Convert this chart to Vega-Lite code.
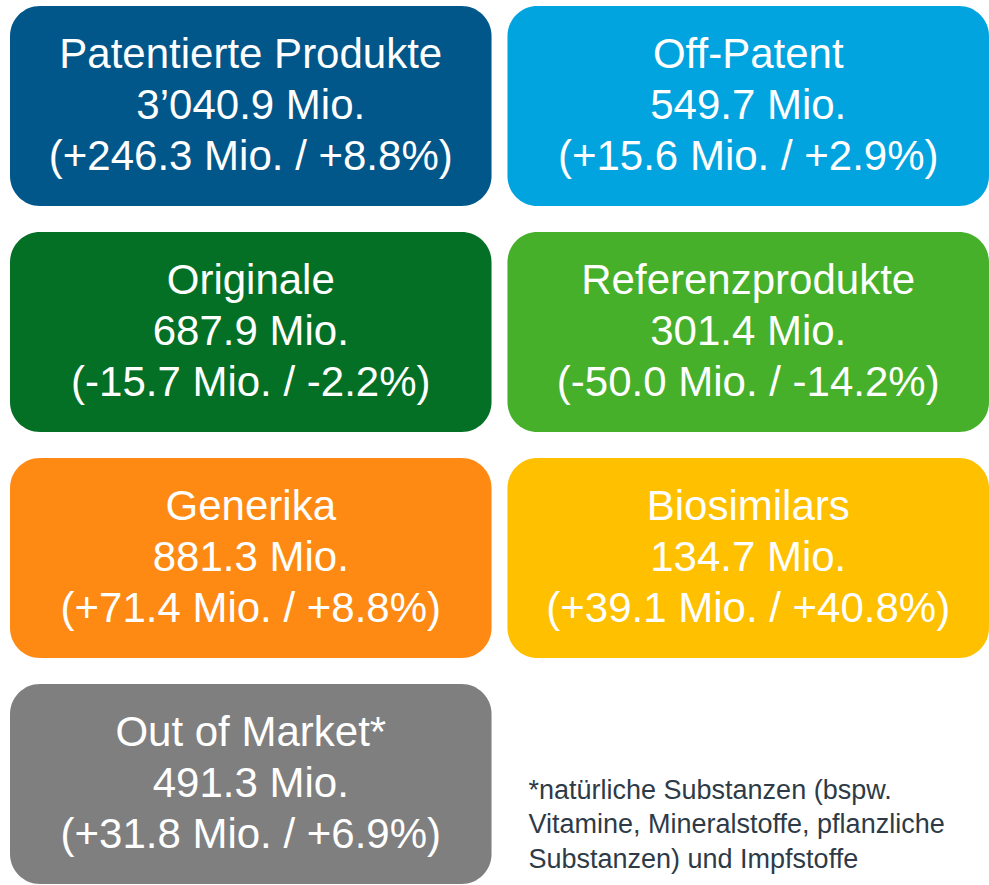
{
  "$schema": "https://vega.github.io/schema/vega-lite/v6.json",
  "width": 989,
  "height": 885,
  "padding": 0,
  "autosize": {"type": "fit", "contains": "padding"},
  "background": "white",
  "config": {"view": {"stroke": null}, "font": "Liberation Sans"},
  "datasets": {
    "boxes": [
      {"name": "Patentierte Produkte", "value": "3’040.9 Mio.", "change": "(+246.3 Mio. / +8.8%)", "col": "links", "row": 1},
      {"name": "Off-Patent", "value": "549.7 Mio.", "change": "(+15.6 Mio. / +2.9%)", "col": "rechts", "row": 1},
      {"name": "Originale", "value": "687.9 Mio.", "change": "(-15.7 Mio. / -2.2%)", "col": "links", "row": 2},
      {"name": "Referenzprodukte", "value": "301.4 Mio.", "change": "(-50.0 Mio. / -14.2%)", "col": "rechts", "row": 2},
      {"name": "Generika", "value": "881.3 Mio.", "change": "(+71.4 Mio. / +8.8%)", "col": "links", "row": 3},
      {"name": "Biosimilars", "value": "134.7 Mio.", "change": "(+39.1 Mio. / +40.8%)", "col": "rechts", "row": 3},
      {"name": "Out of Market*", "value": "491.3 Mio.", "change": "(+31.8 Mio. / +6.9%)", "col": "links", "row": 4}
    ],
    "note": [
      {"col": "rechts", "row": 4, "text": ["*natürliche Substanzen (bspw.", "Vitamine, Mineralstoffe, pflanzliche", "Substanzen) und Impfstoffe"]}
    ]
  },
  "encoding": {
    "x": {"field": "col", "type": "nominal", "axis": null,
          "scale": {"domain": ["links", "rechts"], "range": [10, 989], "paddingInner": 0.032, "paddingOuter": 0}},
    "y": {"field": "row", "type": "ordinal", "axis": null,
          "scale": {"domain": [1, 2, 3, 4], "range": [6, 884], "paddingInner": 0.115, "paddingOuter": 0}}
  },
  "layer": [
    {
      "data": {"name": "boxes"},
      "mark": {"type": "rect", "cornerRadius": 30},
      "encoding": {
        "color": {"field": "name", "type": "nominal", "legend": null,
          "scale": {
            "domain": ["Patentierte Produkte", "Off-Patent", "Originale", "Referenzprodukte", "Generika", "Biosimilars", "Out of Market*"],
            "range": ["#02578A", "#02A4E0", "#047026", "#46B02B", "#FE8A14", "#FFC000", "#7F7F7F"]
          }}
      }
    },
    {
      "data": {"name": "boxes"},
      "mark": {"type": "text", "fontSize": 42, "color": "white", "dy": -51, "baseline": "middle"},
      "encoding": {"text": {"field": "name", "type": "nominal"}}
    },
    {
      "data": {"name": "boxes"},
      "mark": {"type": "text", "fontSize": 42, "color": "white", "dy": 0, "baseline": "middle"},
      "encoding": {"text": {"field": "value", "type": "nominal"}}
    },
    {
      "data": {"name": "boxes"},
      "mark": {"type": "text", "fontSize": 42, "color": "white", "dy": 51, "baseline": "middle"},
      "encoding": {"text": {"field": "change", "type": "nominal"}}
    },
    {
      "data": {"name": "note"},
      "mark": {"type": "text", "fontSize": 27, "color": "#2E3B47", "align": "left", "baseline": "middle", "lineHeight": 34.5, "dx": 21, "dy": 7},
      "encoding": {
        "x": {"field": "col", "type": "nominal", "bandPosition": 0},
        "text": {"field": "text"}
      }
    }
  ]
}
